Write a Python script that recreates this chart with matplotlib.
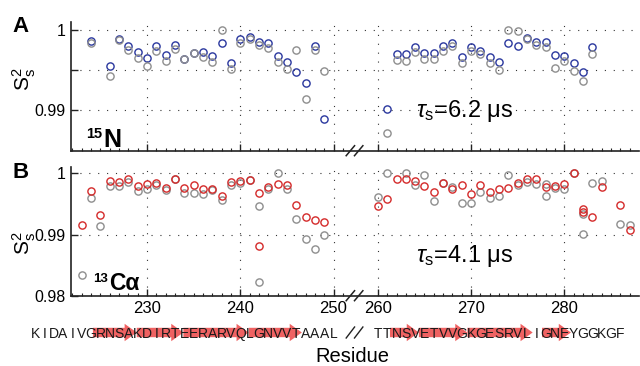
import numpy as np
import matplotlib
matplotlib.use("Agg")
import matplotlib.pyplot as plt

plt.rcParams['font.family'] = ['Liberation Sans', 'DejaVu Sans']
plt.rcParams['mathtext.fontset'] = 'custom'
plt.rcParams['mathtext.rm'] = 'Liberation Sans'
plt.rcParams['mathtext.it'] = 'Liberation Sans:italic'
plt.rcParams['mathtext.bf'] = 'Liberation Sans:bold'

# ---- data ----
# panel A, 15N
n_res = [224, 226, 227, 228, 229, 230, 231, 232, 233, 234, 235, 236, 237, 238, 239,
         240, 241, 242, 243, 244, 245, 246, 247, 248, 249,
         261, 262, 263, 264, 265, 266, 267, 268, 269, 270, 271, 272, 273, 274, 275,
         276, 277, 278, 279, 280, 281, 282, 283]
n_fit = [0.99867, 0.99550, 0.99883, 0.99800, 0.99725, 0.99646, 0.99800, 0.99688, 0.99813,
         0.99633, 0.99708, 0.99729, 0.99675, 0.99842, 0.99592, 0.99883, 0.99917, 0.99854,
         0.99833, 0.99675, 0.99604, 0.99479, 0.99342, 0.99800, 0.98892,
         0.99008, 0.99700, 0.99696, 0.99792, 0.99717, 0.99708, 0.99800, 0.99842, 0.99667,
         0.99792, 0.99742, 0.99667, 0.99600, 0.99842, 0.99804, 0.99896, 0.99854, 0.99846,
         0.99688, 0.99675, 0.99583, 0.99479, 0.99792]
n_ref = [0.99833, 0.99425, 0.99875, 0.99750, 0.99646, 0.99550, 0.99738, 0.99613, 0.99758,
         0.99638, 0.99708, 0.99667, 0.99604, 1.00000, 0.99508, 0.99842, 0.99883, 0.99813,
         0.99779, 0.99600, 0.99508, 0.99750, 0.99142, 0.99750, 0.99492,
         0.98708, 0.99625, 0.99613, 0.99729, 0.99638, 0.99633, 0.99742, 0.99800, 0.99592,
         0.99742, 0.99700, 0.99583, 0.99500, 1.00000, 0.99988, 0.99883, 0.99813, 0.99792,
         0.99529, 0.99613, 0.99488, 0.99367, 0.99700]

# panel B, 13C alpha
ca_res = [223, 224, 225, 226, 227, 228, 229, 230, 231, 232, 233, 234, 235, 236, 237, 238,
          239, 240, 241, 242, 242, 243, 244, 245, 246, 247, 248, 249,
          260, 261, 262, 263, 264, 265, 266, 267, 268, 269, 270, 271, 272, 273, 274, 275,
          276, 277, 278, 279, 280, 281, 282, 282, 283, 284, 286, 287]
ca_fit = [0.99158, 0.99717, 0.99321, 0.99875, 0.99864, 0.99902, 0.99793, 0.99821, 0.99848,
          0.99755, 0.99908, 0.99755, 0.99804, 0.99739, 0.99739, 0.99630, 0.99864, 0.99880,
          0.99891, 0.99674, 0.98821, 0.99783, 0.99826, 0.99810, 0.99484, 0.99287, 0.99243,
          0.99200,
          0.99475, 0.99583, 0.99903, 0.99903, 0.99875, 0.99794, 0.99692, 0.99850, 0.99750,
          0.99810, 0.99660, 0.99810, 0.99700, 0.99740, 0.99757, 0.99848, 0.99903, 0.99903,
          0.99773, 0.99794, 0.99827, 1.00000, 0.99417, 0.99362, 0.99287, 0.99773, 0.99486,
          0.99070]
ca_ref_res = [223, 224, 225, 226, 227, 228, 229, 230, 231, 232, 233, 234, 235, 236, 237, 238,
              239, 240, 241, 242, 242, 243, 244, 245, 246, 247, 248, 249,
              260, 261, 263, 264, 265, 266, 267, 268, 269, 270, 271, 272, 273, 274, 275,
              276, 277, 278, 278, 279, 280, 281, 282, 282, 283, 284, 286, 287]
ca_ref = [0.98337, 0.99592, 0.99136, 0.99793, 0.99793, 0.99864, 0.99717, 0.99739, 0.99810,
          0.99728, 0.99908, 0.99685, 0.99685, 0.99663, 0.99728, 0.99565, 0.99810, 0.99848,
          0.99891, 0.99467, 0.98223, 0.99739, 1.00000, 0.99739, 0.99255, 0.98930, 0.98766,
          0.98995,
          0.99611, 1.00000, 1.00000, 0.99810, 0.99972, 0.99556, 0.99850, 0.99770, 0.99524,
          0.99524, 0.99692, 0.99595, 0.99632, 0.99972, 0.99810, 0.99864, 0.99827, 0.99827,
          0.99632, 0.99757, 0.99740, 1.00000, 0.99336, 0.99011, 0.99848, 0.99880, 0.99178,
          0.99162]

seq1 = "KIDAIVGRNSAKDIRTEERARVQLGNVVTAAAL"
seq1_start = 218
seq2 = "TTNSVETVVGKGESRVLIGNEYGGKGF"
seq2_start = 260
# beta strand arrows (start residue, tip residue)
strands = [(224.2, 228.9), (228.9, 233.9), (233.9, 240.9), (240.9, 246.6),
           (261.3, 264.4), (264.4, 269.6), (269.6, 276.6), (277.6, 280.7)]

major_res = [230, 240, 250, 260, 270, 280]
minor_res = [r for r in list(range(222, 252)) + list(range(261, 288)) if r % 10 != 0]

tau_labels = [r'$\tau_\mathregular{s}$=6.2 μs', r'$\tau_\mathregular{s}$=4.1 μs']

# residues after the gap are pulled left to close the break in the axis
SHIFT = 5.25
BREAK_X = 252.25


def xpos(res):
    res = np.asarray(res, dtype=float)
    return np.where(res > 255, res - SHIFT, res)


W, H = 640, 366
fig = plt.figure(figsize=(6.4, 3.66), dpi=100)


def box(left, top, right, bottom):
    return [left / W, 1 - bottom / H, (right - left) / W, (bottom - top) / H]


axA = fig.add_axes(box(71, 22, 639, 150.7))
axB = fig.add_axes(box(71, 166.7, 639, 295.7))
axS = fig.add_axes(box(71, 320.5, 639, 344.5))

XLIM = (221.85, 282.75)
blue, red, grey = '#2a379e', '#d42a2a', '#8e8e8e'
dots = (0, (1, 7))


def style(ax):
    ax.set_xlim(XLIM)
    for s in ('top', 'right'):
        ax.spines[s].set_visible(False)
    for s in ('left', 'bottom'):
        ax.spines[s].set_linewidth(1.2)
        ax.spines[s].set_color('#222222')
    ax.set_xticks(xpos(major_res))
    ax.set_xticks(xpos(minor_res), minor=True)
    ax.tick_params(which='major', direction='in', length=5, width=1, labelsize=11.5,
                   color='#222222', pad=4)
    ax.tick_params(which='minor', direction='in', length=2.2, width=0.8, color='#222222')
    ax.tick_params(axis='y', which='minor', left=False)
    ax.grid(True, which='major', ls=dots, color='#333333', lw=0.8)


def break_mark(ax, yc, half_h, hpx):
    # two slanted strokes across the axis where residues 251-259 are cut out
    dx = 8.3 / 9.33
    for c in (BREAK_X - dx / 2, BREAK_X + dx / 2):
        ax.plot([c - 0.45, c + 0.45], [yc - half_h / hpx, yc + half_h / hpx],
                color='#222222', lw=1.1, transform=ax.get_xaxis_transform(),
                clip_on=False)


# panel A
style(axA)
axA.plot(xpos(n_res), n_fit, 'o', mfc='none', mec=blue, ms=5.2, mew=1.0, clip_on=False)
axA.plot(xpos(n_res), n_ref, 'o', mfc='none', mec=grey, ms=5.2, mew=1.0, clip_on=False)
axA.set_ylim(0.98491, 1.001)
axA.set_yticks([0.99, 0.995, 1.0])
axA.set_yticklabels(['0.99', '', '1'])
axA.set_xticklabels([])
axA.set_ylabel(r'$\mathregular{S_s^2}$', fontsize=15)
axA.yaxis.set_label_coords(-0.058, 0.553)
break_mark(axA, 0, 5, 128.7)

# panel B
style(axB)
axB.plot(xpos(ca_ref_res), ca_ref, 'o', mfc='none', mec=grey, ms=5.2, mew=1.0, clip_on=False)
axB.plot(xpos(ca_res), ca_fit, 'o', mfc='none', mec=red, ms=5.2, mew=1.0, clip_on=False)
axB.set_ylim(0.98, 1.0011)
axB.set_yticks([0.98, 0.99, 1.0])
axB.set_yticklabels(['0.98', '0.99', '1'])
axB.set_xticklabels([str(r) for r in major_res])
axB.tick_params(axis='x', labelsize=12)
axB.set_ylabel(r'$\mathregular{S_s^2}$', fontsize=15)
axB.yaxis.set_label_coords(-0.058, 0.405)
break_mark(axB, 0, 5, 129)

# sequence row with strand arrows
axS.set_xlim(XLIM)
axS.set_ylim(0, 24)
axS.axis('off')
for x0, x1 in strands:
    a, b = xpos([x0, x1])
    hl = 1.3
    xb = b - hl
    axS.fill([a, xb, xb, b, xb, xb, a],
             [7.3, 7.3, 3.3, 12, 20.7, 16.7, 16.7],
             color='#ef6262', lw=0, clip_on=False)
for seq, start in ((seq1, seq1_start), (seq2, seq2_start)):
    for i, ch in enumerate(seq):
        axS.text(float(xpos(start + i)), 6.8, ch, ha='center', va='baseline',
                 fontsize=10, color='#1a1a1a', clip_on=False)
dx = 8.3 / 9.33
for c in (BREAK_X - dx / 2, BREAK_X + dx / 2):
    axS.plot([c - 0.45, c + 0.45], [6.5, 17.5], color='#222222', lw=1.0, clip_on=False)

# labels
fig.text(12 / W, 1 - 31.7 / H, 'A', fontsize=16, fontweight='bold', va='baseline')
fig.text(12 / W, 1 - 178 / H, 'B', fontsize=16, fontweight='bold', va='baseline')

fig.text(102 / W, 1 - 138 / H, '15', fontsize=10.5, fontweight='bold', va='baseline',
         ha='right')
fig.text(103 / W, 1 - 146.7 / H, 'N', fontsize=18, fontweight='bold', va='baseline')
fig.text(108 / W, 1 - 281.5 / H, '13', fontsize=9.5, fontweight='bold', va='baseline',
         ha='right')
fig.text(109.5 / W, 1 - 290 / H, 'Cα', fontsize=16.5, fontweight='bold', va='baseline')

fig.text(416 / W, 1 - 117 / H, tau_labels[0], fontsize=17, va='baseline')
fig.text(416 / W, 1 - 261.7 / H, tau_labels[1], fontsize=17, va='baseline')

fig.text(315 / W, 1 - 361.5 / H, 'Residue', fontsize=14.5, va='baseline')

fig.savefig('out.png', dpi=100)
